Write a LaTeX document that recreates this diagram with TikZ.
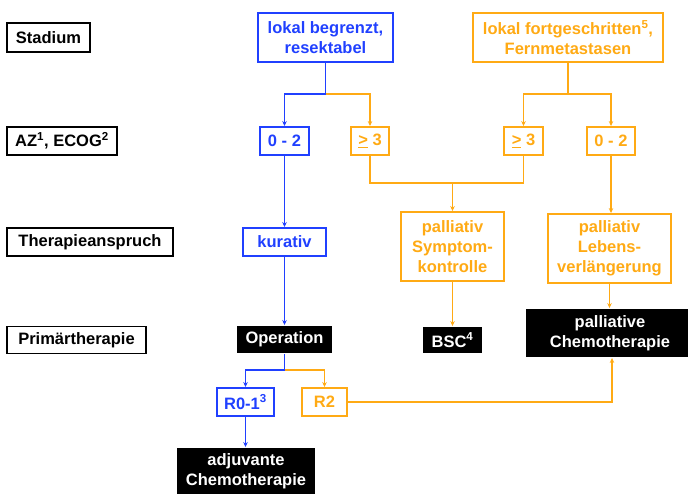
\documentclass[tikz,border=0pt]{standalone}
\usepackage{fontspec}
\setmainfont{Liberation Sans}
\usetikzlibrary{arrows.meta}
\definecolor{cblue}{RGB}{32,64,255}
\definecolor{corange}{RGB}{255,170,20}
\begin{document}
\begin{tikzpicture}[x=1pt,y=-1pt,
  base/.style={font=\fontsize{16.5}{20}\selectfont\bfseries, align=center, inner sep=0pt, line width=1.9pt},
  lbl/.style={base, draw=black, minimum height=28pt, text=black},
  bbox/.style={base, draw=cblue, text=cblue, minimum height=28pt},
  obox/.style={base, draw=corange, text=corange, minimum height=28pt},
  kbox/.style={base, fill=black, text=white, draw=none},
  bl/.style={draw=cblue, line width=1.9pt},
  ol/.style={draw=corange, line width=1.9pt},
  arr/.style={-{Stealth[length=5pt,width=4.5pt]}}
]
\useasboundingbox (0,0) rectangle (688,494);
\clip (0,0) rectangle (688,494);
% left labels
\node[lbl, minimum width=83pt, minimum height=29pt] (st) at (48.5,37.5) {Stadium};
\node[lbl, minimum width=110pt] (az) at (62,141) {AZ\textsuperscript{1}, ECOG\textsuperscript{2}};
\node[lbl, minimum width=166pt] (th) at (90,242) {Therapieanspruch};
\node[lbl, minimum width=139pt, minimum height=27pt] (pt) at (76.5,340) {Primärtherapie};
% top row
\node[bbox, minimum width=135pt, minimum height=49pt] (lb) at (325.5,37.5) {lokal begrenzt,\\resektabel};
\node[obox, minimum width=190pt, minimum height=49pt] (lf) at (568,37.5) {lokal fortgeschritten\textsuperscript{5},\\Fernmetastasen};
% AZ row
\node[bbox, minimum width=49pt] (b02) at (284.5,141) {0 - 2};
\node[obox, minimum width=38pt] (o3a) at (370,141) {\underline{>} 3};
\node[obox, minimum width=39pt] (o3b) at (523.5,141) {\underline{>} 3};
\node[obox, minimum width=48pt] (o02) at (611,141) {0 - 2};
% Therapieanspruch row
\node[bbox, minimum width=83pt] (kur) at (284.5,242) {kurativ};
\node[obox, minimum width=103pt, minimum height=69pt] (sym) at (452.5,246.5) {palliativ\\Symptom-\\kontrolle};
\node[obox, minimum width=123pt, minimum height=69pt] (leb) at (609.5,248.5) {palliativ\\Lebens-\\verlängerung};
% Primaertherapie row
\node[kbox, minimum width=95pt, minimum height=27pt] (op) at (284.5,339.5) {Operation};
\node[kbox, minimum width=59pt, minimum height=26pt] (bsc) at (452.5,340) {BSC\textsuperscript{4}};
\node[kbox, minimum width=168pt, minimum height=48pt] (pch) at (610,333) {palliative\\Chemotherapie};
% resection
\node[bbox, minimum width=57pt] (r01) at (245.5,402) {R0-1\textsuperscript{3}};
\node[obox, minimum width=45pt] (r2) at (324.5,402) {R2};
\node[kbox, minimum width=138pt, minimum height=46pt] (adj) at (246,471) {adjuvante\\Chemotherapie};
% junctions
\coordinate (j1) at (lb.south |- 0,94);
\coordinate (j2) at (lf.south |- 0,94);
\coordinate (j3) at (sym.north |- 0,183);
\coordinate (j4) at (op.south |- 0,370);
% connectors
\draw[ol, arr] (j1) -| (o3a.north);
\draw[bl, arr] (lb.south) -- (j1) -| (b02.north);
\draw[ol, arr] (lf.south) -- (j2) -| (o3b.north);
\draw[ol, arr] (j2) -| (o02.north);
\draw[ol] (o3a.south) |- (j3);
\draw[ol] (o3b.south) |- (j3);
\draw[ol, arr] (j3) -- (sym.north);
\draw[ol, arr] (o02.south) -- (o02.south |- leb.north);
\draw[ol, arr] (sym.south) -- (bsc.north);
\draw[ol, arr] (leb.south) -- (leb.south |- pch.north);
\draw[bl, arr] (b02.south) -- (kur.north);
\draw[bl, arr] (kur.south) -- (op.north);
\draw[ol, arr] (j4) -| (r2.north);
\draw[bl, arr] (op.south) -- (j4) -| (r01.north);
\draw[bl, arr] (r01.south) -- (r01.south |- adj.north);
\draw[ol, arr] (r2.east) -| ([xshift=2pt]pch.south);
\end{tikzpicture}
\end{document}
